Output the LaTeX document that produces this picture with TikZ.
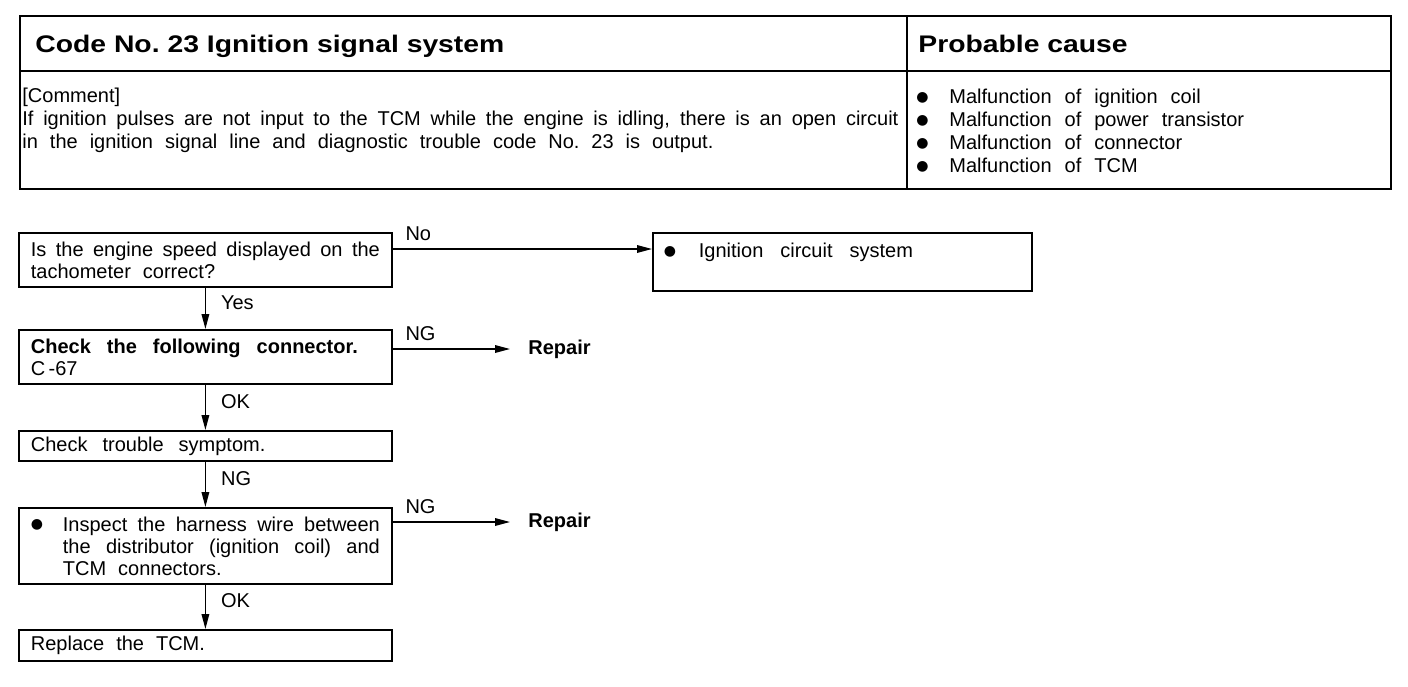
\documentclass[tikz,border=0pt]{standalone}
\usepackage{fontspec}
\setmainfont{Liberation Sans}
\newfontfamily\headfont[FakeStretch=1.18]{Liberation Sans}
\newfontfamily\symfont{DejaVu Sans}
\usepackage{tikz}
\usetikzlibrary{arrows.meta, positioning, calc}
\newcommand{\bul}{\raisebox{1.3pt}{\symfont\fontsize{7}{7}\selectfont ●}}
\newcommand{\wordsp}[1]{\spaceskip=#1 plus 2pt minus 1.5pt\relax}

\begin{document}
\begin{tikzpicture}[x=0.5pt, y=-0.5pt,
  box/.style={draw, line width=0.9pt, anchor=north west, inner xsep=6pt, inner ysep=0pt,
    text width=174.5pt, align=justify, font=\fontsize{10}{11}\selectfont\wordsp{6pt}},
  arr/.style={line width=0.7pt, -{Triangle[length=7.5pt, width=3.8pt]}},
  lbl/.style={font=\fontsize{10}{12}\selectfont, inner sep=0pt},
  rep/.style={font=\bfseries\fontsize{10}{12}\selectfont, anchor=west, inner xsep=9pt, inner ysep=0pt}]
\useasboundingbox (0,0) rectangle (1408,686);
\draw[line width=1.2pt] (20,16) rectangle (1391,189);
\draw[line width=1.2pt] (20,71) -- (1391,71) (907,16) -- (907,189);
\node[font=\headfont\bfseries\fontsize{12}{14}\selectfont, anchor=base west, inner sep=0pt]
  (code) at (35,52) {Code No.\ 23 Ignition signal system};
\node[font=\headfont\bfseries\fontsize{12}{14}\selectfont, anchor=base west, inner sep=0pt]
  (cause) at (918,52) {Probable cause};
\node[font=\fontsize{10}{11.5}\selectfont\wordsp{6pt}, anchor=north west, inner sep=0pt, text width=438pt, align=justify]
  (comment) at (22,88) {[Comment]\\ If ignition pulses are not input to the TCM while the engine is idling, there is an open circuit\linebreak in the ignition signal line and diagnostic trouble code No.\ 23 is output.};
\node[font=\fontsize{10}{11.5}\selectfont, anchor=north west, inner sep=0pt, text width=220pt, align=left]
  (causes) at (916,89) {\wordsp{6.5pt}\makebox[16.5pt][l]{\bul}Malfunction of ignition coil\\
  \makebox[16.5pt][l]{\bul}Malfunction of power transistor\\
  \makebox[16.5pt][l]{\bul}Malfunction of connector\\
  \makebox[16.5pt][l]{\bul}Malfunction of TCM};

\node[box, minimum height=27pt] (speed) at (18,232) {Is the engine speed displayed on the\linebreak tachometer correct?};
\node[box, inner xsep=5.5pt, text width=178.5pt, text height=12.5pt, text depth=16.5pt] (icirc) at (652,232)
  {\makebox[17.5pt][l]{\bul}{\wordsp{8.5pt}Ignition circuit system}};
\node[box, minimum height=27pt] (conn) at (18,329) {{\bfseries\wordsp{8pt}Check the following connector.}\\ C\,-67};
\node[box, minimum height=15pt] (sympt) at (18,430) {{\wordsp{7.5pt}Check trouble symptom.}};
\node[box, minimum height=38pt] (harn) at (18,507) {\makebox[16pt][l]{\bul}\hfill\parbox[t]{158.5pt}{Inspect the harness wire between\linebreak the distributor (ignition coil) and\linebreak TCM connectors.}};
\node[box, minimum height=15.5pt] (tcm) at (18,629) {Replace the TCM.};
\node[rep] (rep1) at (510,349) {Repair};
\node[rep] (rep2) at (510,522) {Repair};

\draw[arr] ([yshift=-8.5pt]speed.north east) -- node[lbl, pos=0, anchor=base west, xshift=6pt, yshift=4.4pt]{No} ([yshift=-8.5pt]icirc.north west);
\draw[arr] (speed) -- node[lbl, pos=.37, anchor=west, xshift=7.5pt]{Yes} (conn);
\draw[arr] ([yshift=-10pt]conn.north east) -- node[lbl, pos=0, anchor=base west, xshift=6pt, yshift=4.4pt]{NG} (rep1.west);
\draw[arr] (conn) -- node[lbl, pos=.38, anchor=west, xshift=7.5pt]{OK} (sympt);
\draw[arr] (sympt) -- node[lbl, pos=.38, anchor=west, xshift=7.5pt]{NG} (harn);
\draw[arr] ([yshift=-7.5pt]harn.north east) -- node[lbl, pos=0, anchor=base west, xshift=6pt, yshift=4.4pt]{NG} (rep2.west);
\draw[arr] (harn) -- node[lbl, pos=.35, anchor=west, xshift=7.5pt]{OK} (tcm);
\end{tikzpicture}
\end{document}
